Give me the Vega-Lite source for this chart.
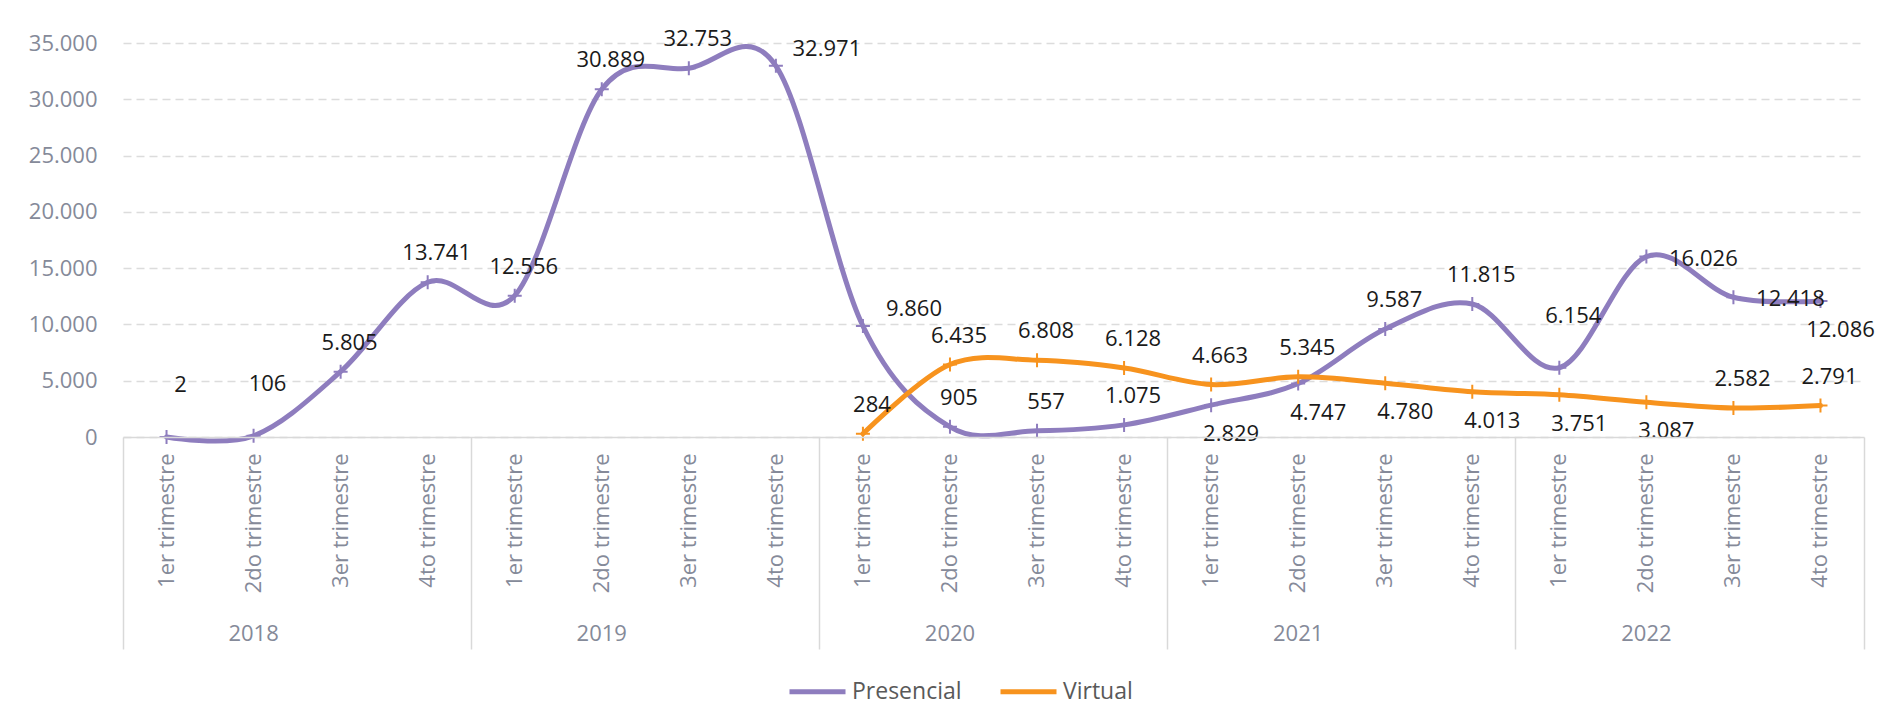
{
  "$schema": "https://vega.github.io/schema/vega-lite/v6.json",
  "width": 1741,
  "height": 394,
  "autosize": {"type": "none"},
  "padding": {"left": 123, "top": 43, "right": 24, "bottom": 289},
  "background": "white",
  "config": {
    "view": {"stroke": null},
    "font": "Open Sans",
    "locale": {"number": {"decimal": ",", "thousands": ".", "grouping": [3], "currency": ["", " €"]}},
    "axisY": {
      "values": [0, 5000, 10000, 15000, 20000, 25000, 30000, 35000],
      "format": ",d",
      "labelFont": "Open Sans",
      "labelFontSize": 22,
      "labelColor": "#858a99",
      "labelPadding": 26,
      "ticks": false,
      "domain": false,
      "grid": true,
      "gridColor": "#dcdcdc",
      "gridDash": [8, 5],
      "gridWidth": 1.4,
      "title": null
    }
  },
  "data": {
    "values": [
      {"periodo": "2018 1er trimestre", "serie": "Presencial", "valor": 2},
      {"periodo": "2018 2do trimestre", "serie": "Presencial", "valor": 106},
      {"periodo": "2018 3er trimestre", "serie": "Presencial", "valor": 5805},
      {"periodo": "2018 4to trimestre", "serie": "Presencial", "valor": 13741},
      {"periodo": "2019 1er trimestre", "serie": "Presencial", "valor": 12556},
      {"periodo": "2019 2do trimestre", "serie": "Presencial", "valor": 30889},
      {"periodo": "2019 3er trimestre", "serie": "Presencial", "valor": 32753},
      {"periodo": "2019 4to trimestre", "serie": "Presencial", "valor": 32971},
      {"periodo": "2020 1er trimestre", "serie": "Presencial", "valor": 9860},
      {"periodo": "2020 2do trimestre", "serie": "Presencial", "valor": 905},
      {"periodo": "2020 3er trimestre", "serie": "Presencial", "valor": 557},
      {"periodo": "2020 4to trimestre", "serie": "Presencial", "valor": 1075},
      {"periodo": "2021 1er trimestre", "serie": "Presencial", "valor": 2829},
      {"periodo": "2021 2do trimestre", "serie": "Presencial", "valor": 4747},
      {"periodo": "2021 3er trimestre", "serie": "Presencial", "valor": 9587},
      {"periodo": "2021 4to trimestre", "serie": "Presencial", "valor": 11815},
      {"periodo": "2022 1er trimestre", "serie": "Presencial", "valor": 6154},
      {"periodo": "2022 2do trimestre", "serie": "Presencial", "valor": 16026},
      {"periodo": "2022 3er trimestre", "serie": "Presencial", "valor": 12418},
      {"periodo": "2022 4to trimestre", "serie": "Presencial", "valor": 12086},
      {"periodo": "2020 1er trimestre", "serie": "Virtual", "valor": 284},
      {"periodo": "2020 2do trimestre", "serie": "Virtual", "valor": 6435},
      {"periodo": "2020 3er trimestre", "serie": "Virtual", "valor": 6808},
      {"periodo": "2020 4to trimestre", "serie": "Virtual", "valor": 6128},
      {"periodo": "2021 1er trimestre", "serie": "Virtual", "valor": 4663},
      {"periodo": "2021 2do trimestre", "serie": "Virtual", "valor": 5345},
      {"periodo": "2021 3er trimestre", "serie": "Virtual", "valor": 4780},
      {"periodo": "2021 4to trimestre", "serie": "Virtual", "valor": 4013},
      {"periodo": "2022 1er trimestre", "serie": "Virtual", "valor": 3751},
      {"periodo": "2022 2do trimestre", "serie": "Virtual", "valor": 3087},
      {"periodo": "2022 3er trimestre", "serie": "Virtual", "valor": 2582},
      {"periodo": "2022 4to trimestre", "serie": "Virtual", "valor": 2791}
    ]
  },
  "layer": [
    {
      "mark": {"type": "line", "interpolate": "cardinal", "strokeWidth": 5, "strokeCap": "round", "strokeJoin": "round"},
      "encoding": {
        "x": {
          "field": "periodo", "type": "nominal", "sort": null, "title": null,
          "scale": {"type": "band", "paddingInner": 0, "paddingOuter": 0, "domain": ["2018 1er trimestre", "2018 2do trimestre", "2018 3er trimestre", "2018 4to trimestre", "2019 1er trimestre", "2019 2do trimestre", "2019 3er trimestre", "2019 4to trimestre", "2020 1er trimestre", "2020 2do trimestre", "2020 3er trimestre", "2020 4to trimestre", "2021 1er trimestre", "2021 2do trimestre", "2021 3er trimestre", "2021 4to trimestre", "2022 1er trimestre", "2022 2do trimestre", "2022 3er trimestre", "2022 4to trimestre"]},
          "axis": {
            "orient": "bottom", "labelAngle": -90, "labelAlign": "right", "labelBaseline": "middle",
            "labelPadding": 16, "ticks": false, "domain": true, "domainColor": "#d9d9d9", "domainWidth": 1.5,
            "labelFont": "Open Sans", "labelFontSize": 22, "labelColor": "#858a99",
            "labelExpr": "slice(datum.value, 5)", "grid": false, "labelOverlap": false, "labelLimit": 0, "zindex": 1
          }
        },
        "y": {"field": "valor", "type": "quantitative", "title": null, "scale": {"domain": [0, 35000], "nice": false}},
        "color": {
          "field": "serie", "type": "nominal",
          "scale": {"domain": ["Presencial", "Virtual"], "range": ["#8E7DBE", "#F7931E"]},
          "legend": {
            "orient": "none", "legendX": 664, "legendY": 618, "direction": "horizontal", "title": null,
            "symbolType": "stroke", "symbolSize": 3136, "symbolStrokeWidth": 5,
            "labelFont": "Open Sans", "labelFontSize": 23, "labelColor": "#595959",
            "columnPadding": 28, "labelOffset": 4
          }
        }
      }
    },
    {
      "mark": {"type": "point", "shape": "M-1,0L1,0M0,-1L0,1", "filled": false, "size": 196, "strokeWidth": 2, "opacity": 1},
      "encoding": {
        "x": {
          "field": "periodo", "type": "nominal", "sort": null, "title": null,
          "scale": {"type": "band", "paddingInner": 0, "paddingOuter": 0, "domain": ["2018 1er trimestre", "2018 2do trimestre", "2018 3er trimestre", "2018 4to trimestre", "2019 1er trimestre", "2019 2do trimestre", "2019 3er trimestre", "2019 4to trimestre", "2020 1er trimestre", "2020 2do trimestre", "2020 3er trimestre", "2020 4to trimestre", "2021 1er trimestre", "2021 2do trimestre", "2021 3er trimestre", "2021 4to trimestre", "2022 1er trimestre", "2022 2do trimestre", "2022 3er trimestre", "2022 4to trimestre"]},
          "axis": {
            "orient": "bottom", "bandPosition": 1,
            "labelExpr": "slice(datum.value, 5, 8) === '2do' ? slice(datum.value, 0, 4) : ''",
            "labelAngle": 0, "labelAlign": "center", "labelBaseline": "middle",
            "ticks": true, "tickSize": 212, "tickColor": "#d9d9d9", "tickWidth": 1.5,
            "tickOpacity": {"condition": {"test": "slice(datum.value, 5, 8) === '4to'", "value": 1}, "value": 0},
            "labelPadding": -16, "domain": false, "grid": false,
            "labelFont": "Open Sans", "labelFontSize": 22, "labelColor": "#858a99", "labelOverlap": false
          }
        },
        "y": {"field": "valor", "type": "quantitative", "title": null, "scale": {"domain": [0, 35000], "nice": false}},
        "stroke": {
          "field": "serie", "type": "nominal",
          "scale": {"domain": ["Presencial", "Virtual"], "range": ["#8E7DBE", "#F7931E"]},
          "legend": null
        }
      }
    },
    {
      "transform": [{"filter": "!((datum.serie === 'Presencial' && (datum.periodo === '2018 1er trimestre' || datum.periodo === '2018 2do trimestre' || datum.periodo === '2022 1er trimestre' || datum.periodo === '2019 4to trimestre' || datum.periodo === '2020 1er trimestre' || datum.periodo === '2022 2do trimestre' || datum.periodo === '2022 3er trimestre' || datum.periodo === '2021 1er trimestre' || datum.periodo === '2021 2do trimestre' || datum.periodo === '2022 4to trimestre')) || (datum.serie === 'Virtual' && (datum.periodo === '2021 3er trimestre' || datum.periodo === '2021 4to trimestre' || datum.periodo === '2022 1er trimestre' || datum.periodo === '2022 2do trimestre')))"}],
      "mark": {"type": "text", "font": "Open Sans", "fontSize": 22, "color": "#1a1a1a", "align": "center", "baseline": "middle", "dx": 9, "dy": -29},
      "encoding": {
        "x": {
          "field": "periodo", "type": "nominal", "sort": null, "title": null,
          "scale": {"type": "band", "paddingInner": 0, "paddingOuter": 0, "domain": ["2018 1er trimestre", "2018 2do trimestre", "2018 3er trimestre", "2018 4to trimestre", "2019 1er trimestre", "2019 2do trimestre", "2019 3er trimestre", "2019 4to trimestre", "2020 1er trimestre", "2020 2do trimestre", "2020 3er trimestre", "2020 4to trimestre", "2021 1er trimestre", "2021 2do trimestre", "2021 3er trimestre", "2021 4to trimestre", "2022 1er trimestre", "2022 2do trimestre", "2022 3er trimestre", "2022 4to trimestre"]},
          "axis": {
            "orient": "bottom", "bandPosition": 0, "labels": false, "domain": false, "grid": false,
            "ticks": true, "tickSize": 212, "tickColor": "#d9d9d9", "tickWidth": 1.5,
            "tickOpacity": {"condition": {"test": "datum.value === '2018 1er trimestre'", "value": 1}, "value": 0}
          }
        },
        "y": {"field": "valor", "type": "quantitative", "title": null, "scale": {"domain": [0, 35000], "nice": false}},
        "text": {"field": "valor", "type": "quantitative", "format": ",d"}
      }
    },
    {
      "transform": [{"filter": "datum.serie === 'Presencial' && (datum.periodo === '2018 1er trimestre' || datum.periodo === '2018 2do trimestre' || datum.periodo === '2022 1er trimestre')"}],
      "mark": {"type": "text", "font": "Open Sans", "fontSize": 22, "color": "#1a1a1a", "align": "center", "baseline": "middle", "dx": 14, "dy": -52},
      "encoding": {
        "x": {
          "field": "periodo", "type": "nominal", "sort": null, "title": null,
          "scale": {"type": "band", "paddingInner": 0, "paddingOuter": 0, "domain": ["2018 1er trimestre", "2018 2do trimestre", "2018 3er trimestre", "2018 4to trimestre", "2019 1er trimestre", "2019 2do trimestre", "2019 3er trimestre", "2019 4to trimestre", "2020 1er trimestre", "2020 2do trimestre", "2020 3er trimestre", "2020 4to trimestre", "2021 1er trimestre", "2021 2do trimestre", "2021 3er trimestre", "2021 4to trimestre", "2022 1er trimestre", "2022 2do trimestre", "2022 3er trimestre", "2022 4to trimestre"]},
          "axis": null
        },
        "y": {"field": "valor", "type": "quantitative", "title": null, "scale": {"domain": [0, 35000], "nice": false}},
        "text": {"field": "valor", "type": "quantitative", "format": ",d"}
      }
    },
    {
      "transform": [{"filter": "(datum.serie === 'Presencial' && (datum.periodo === '2021 1er trimestre' || datum.periodo === '2021 2do trimestre' || datum.periodo === '2022 4to trimestre')) || (datum.serie === 'Virtual' && (datum.periodo === '2021 3er trimestre' || datum.periodo === '2021 4to trimestre' || datum.periodo === '2022 1er trimestre' || datum.periodo === '2022 2do trimestre'))"}],
      "mark": {"type": "text", "font": "Open Sans", "fontSize": 22, "color": "#1a1a1a", "align": "center", "baseline": "middle", "dx": 20, "dy": 29},
      "encoding": {
        "x": {
          "field": "periodo", "type": "nominal", "sort": null, "title": null,
          "scale": {"type": "band", "paddingInner": 0, "paddingOuter": 0, "domain": ["2018 1er trimestre", "2018 2do trimestre", "2018 3er trimestre", "2018 4to trimestre", "2019 1er trimestre", "2019 2do trimestre", "2019 3er trimestre", "2019 4to trimestre", "2020 1er trimestre", "2020 2do trimestre", "2020 3er trimestre", "2020 4to trimestre", "2021 1er trimestre", "2021 2do trimestre", "2021 3er trimestre", "2021 4to trimestre", "2022 1er trimestre", "2022 2do trimestre", "2022 3er trimestre", "2022 4to trimestre"]},
          "axis": null
        },
        "y": {"field": "valor", "type": "quantitative", "title": null, "scale": {"domain": [0, 35000], "nice": false}},
        "text": {"field": "valor", "type": "quantitative", "format": ",d"}
      }
    },
    {
      "transform": [{"filter": "datum.serie === 'Presencial' && (datum.periodo === '2019 4to trimestre' || datum.periodo === '2020 1er trimestre')"}],
      "mark": {"type": "text", "font": "Open Sans", "fontSize": 22, "color": "#1a1a1a", "align": "center", "baseline": "middle", "dx": 51, "dy": -17},
      "encoding": {
        "x": {
          "field": "periodo", "type": "nominal", "sort": null, "title": null,
          "scale": {"type": "band", "paddingInner": 0, "paddingOuter": 0, "domain": ["2018 1er trimestre", "2018 2do trimestre", "2018 3er trimestre", "2018 4to trimestre", "2019 1er trimestre", "2019 2do trimestre", "2019 3er trimestre", "2019 4to trimestre", "2020 1er trimestre", "2020 2do trimestre", "2020 3er trimestre", "2020 4to trimestre", "2021 1er trimestre", "2021 2do trimestre", "2021 3er trimestre", "2021 4to trimestre", "2022 1er trimestre", "2022 2do trimestre", "2022 3er trimestre", "2022 4to trimestre"]},
          "axis": null
        },
        "y": {"field": "valor", "type": "quantitative", "title": null, "scale": {"domain": [0, 35000], "nice": false}},
        "text": {"field": "valor", "type": "quantitative", "format": ",d"}
      }
    },
    {
      "transform": [{"filter": "datum.serie === 'Presencial' && (datum.periodo === '2022 2do trimestre' || datum.periodo === '2022 3er trimestre')"}],
      "mark": {"type": "text", "font": "Open Sans", "fontSize": 22, "color": "#1a1a1a", "align": "center", "baseline": "middle", "dx": 57, "dy": 2},
      "encoding": {
        "x": {
          "field": "periodo", "type": "nominal", "sort": null, "title": null,
          "scale": {"type": "band", "paddingInner": 0, "paddingOuter": 0, "domain": ["2018 1er trimestre", "2018 2do trimestre", "2018 3er trimestre", "2018 4to trimestre", "2019 1er trimestre", "2019 2do trimestre", "2019 3er trimestre", "2019 4to trimestre", "2020 1er trimestre", "2020 2do trimestre", "2020 3er trimestre", "2020 4to trimestre", "2021 1er trimestre", "2021 2do trimestre", "2021 3er trimestre", "2021 4to trimestre", "2022 1er trimestre", "2022 2do trimestre", "2022 3er trimestre", "2022 4to trimestre"]},
          "axis": null
        },
        "y": {"field": "valor", "type": "quantitative", "title": null, "scale": {"domain": [0, 35000], "nice": false}},
        "text": {"field": "valor", "type": "quantitative", "format": ",d"}
      }
    }
  ],
  "resolve": {"axis": {"x": "independent"}}
}
